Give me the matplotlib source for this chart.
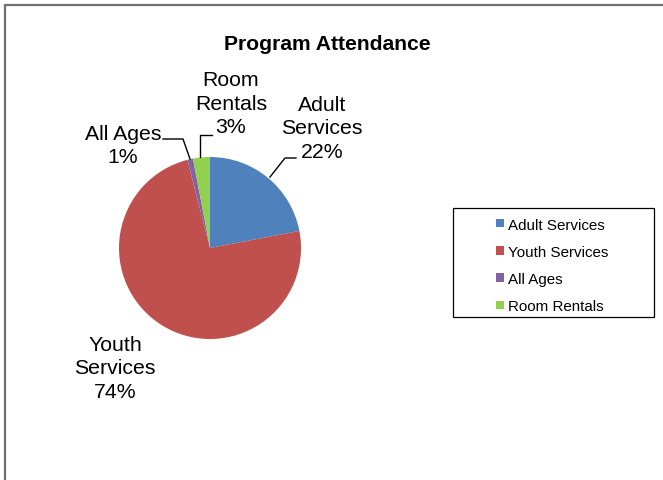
import matplotlib.pyplot as plt
from matplotlib.patches import Rectangle
from matplotlib.lines import Line2D

plt.rcParams["font.family"] = ["Liberation Sans", "DejaVu Sans"]

# --- data -----------------------------------------------------------------
categories = ["Adult Services", "Youth Services", "All Ages", "Room Rentals"]
values = [22, 74, 1, 3]
slice_labels = ["Adult\nServices\n22%", "Youth\nServices\n74%",
                "All Ages\n1%", "Room\nRentals\n3%"]
colors = ["#4F81BD", "#C0504D", "#8064A2", "#92D050"]

W, H = 663, 481
fig = plt.figure(figsize=(W / 100, H / 100), dpi=100)


def px_box(left, top, width, height):
    return [left / W, 1 - (top + height) / H, width / W, height / H]


# outer chart border (only top/left visible in the crop)
fig.add_artist(Rectangle((5 / W, -0.1), 1.2, 1 - 6 / H + 0.1,
                         transform=fig.transFigure, fill=False,
                         edgecolor="#6f6f6f", linewidth=1.6, clip_on=False))

fig.text(327 / W, 1 - 45 / H, "Program Attendance", ha="center", va="center",
         fontsize=15.2, fontweight="bold")

# pie
cx, cy, r = 210, 249, 91
ax = fig.add_axes(px_box(cx - r, cy - r, 2 * r, 2 * r))
wedges, _ = ax.pie(values, colors=colors, startangle=90, counterclock=False,
                   radius=1.0, wedgeprops=dict(linewidth=0))
ax.set_xlim(-1, 1)
ax.set_ylim(-1, 1)
ax.set_axis_off()


def to_d(px, py):
    return ((px - cx) / r, (cy - py) / r)


label_pos = [(322, 129), (115, 369), (123, 146), (231, 104)]
for lab, (px, py) in zip(slice_labels, label_pos):
    x, y = to_d(px, py)
    ax.text(x, y, lab, ha="center", va="center", fontsize=15.3,
            linespacing=1.32, clip_on=False)

# leader lines
leaders = [
    [(270, 178), (285, 159), (296, 159)],
    [(190, 160), (183, 140), (163, 140)],
    [(200, 158), (200, 136), (212, 136)],
]
for pts in leaders:
    xs, ys = zip(*[to_d(*p) for p in pts])
    ax.add_line(Line2D(xs, ys, color="black", linewidth=1.0, clip_on=False))

# legend
fig.add_artist(Rectangle((453 / W, 1 - 318 / H), 201 / W, 109 / H,
                         transform=fig.transFigure, fill=False,
                         edgecolor="black", linewidth=0.9))
fig.legend(wedges, categories, loc="center left",
           bbox_to_anchor=(496 / W, 1 - 266.5 / H), frameon=False,
           fontsize=10.9, handlelength=0.5, handleheight=0.5,
           handletextpad=0.3, labelspacing=0.88, borderpad=0, borderaxespad=0)

fig.savefig("out.png", dpi=100)
